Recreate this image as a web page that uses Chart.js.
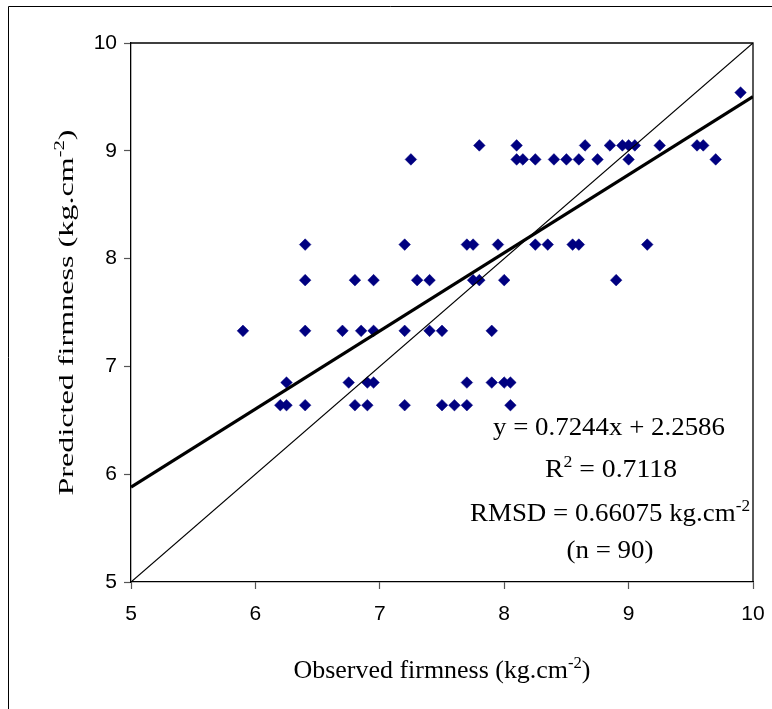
<!DOCTYPE html>
<html><head><meta charset="utf-8">
<script src="https://cdn.jsdelivr.net/npm/chart.js@4.4.1/dist/chart.umd.min.js"></script>
<style>html,body{margin:0;padding:0;background:#fff;overflow:hidden}</style>
</head><body>
<canvas id="c" width="772" height="709"></canvas>
<script>
// ---- data ----
const xTicks = [5, 6, 7, 8, 9, 10];
const yTicks = [5, 6, 7, 8, 9, 10];
const observed = [
  9.90,
  7.80, 8.10, 8.65, 8.85, 8.95, 9.00, 9.05, 9.25, 9.55, 9.60,
  7.25, 8.10, 8.15, 8.25, 8.40, 8.50, 8.60, 8.75, 9.00, 9.70,
  6.40, 7.20, 7.70, 7.75, 7.95, 8.25, 8.35, 8.55, 8.60, 9.15,
  6.40, 6.80, 6.95, 7.30, 7.40, 7.75, 7.80, 8.00, 8.90,
  5.90, 6.40, 6.70, 6.85, 6.95, 7.20, 7.40, 7.50, 7.90,
  6.25, 6.75, 6.90, 6.95, 7.70, 7.90, 8.00, 8.05,
  6.20, 6.25, 6.40, 6.80, 6.90, 7.20, 7.50, 7.60, 7.70, 8.05
];
const predicted = [
  9.54,
  9.05, 9.05, 9.05, 9.05, 9.05, 9.05, 9.05, 9.05, 9.05, 9.05,
  8.92, 8.92, 8.92, 8.92, 8.92, 8.92, 8.92, 8.92, 8.92, 8.92,
  8.13, 8.13, 8.13, 8.13, 8.13, 8.13, 8.13, 8.13, 8.13, 8.13,
  7.80, 7.80, 7.80, 7.80, 7.80, 7.80, 7.80, 7.80, 7.80,
  7.33, 7.33, 7.33, 7.33, 7.33, 7.33, 7.33, 7.33, 7.33,
  6.85, 6.85, 6.85, 6.85, 6.85, 6.85, 6.85, 6.85,
  6.64, 6.64, 6.64, 6.64, 6.64, 6.64, 6.64, 6.64, 6.64, 6.64
];
const oneToOneX = [5, 10];
const oneToOneY = [5, 10];
const fitX = [5, 10];
const fitY = [5.8806, 9.5026];   // y = 0.7244x + 2.2586
const xTitle = [{t: 'Observed firmness (kg.cm'}, {t: '-2', sup: true}, {t: ')'}];
const yTitle = [{t: 'Predicted firmness (kg.cm'}, {t: '-2', sup: true}, {t: ')'}];
const statLines = [
  [{t: 'y = 0.7244x + 2.2586'}],
  [{t: 'R'}, {t: '2', sup: true}, {t: ' = 0.7118'}],
  [{t: 'RMSD = 0.66075 kg.cm'}, {t: '-2', sup: true}],
  [{t: '(n = 90)'}]
];

const pts = observed.map((x, i) => ({x: x, y: predicted[i]}));
const toXY = (xs, ys) => xs.map((x, i) => ({x: x, y: ys[i]}));

const SERIF = '"Liberation Serif", "Times New Roman", serif';

function drawParts(ctx, parts, size, targetW, sy) {
  const widths = parts.map(p => {
    ctx.font = (p.sup ? Math.round(size * 0.62) : size) + 'px ' + SERIF;
    return ctx.measureText(p.t).width;
  });
  const total = widths.reduce((a, b) => a + b, 0);
  const sx = targetW ? targetW / total : 1;
  ctx.save();
  ctx.scale(sx, sy || 1);
  let x = -total / 2;
  parts.forEach((p, i) => {
    ctx.font = (p.sup ? Math.round(size * 0.62) : size) + 'px ' + SERIF;
    ctx.fillText(p.t, x, p.sup ? -size * 0.42 : 0);
    x += widths[i];
  });
  ctx.restore();
}

const decor = {
  id: 'decor',
  beforeDraw(chart) {
    const ctx = chart.ctx;
    ctx.save();
    ctx.strokeStyle = '#000';
    ctx.lineWidth = 1;
    ctx.beginPath();
    ctx.moveTo(8.5, 709);
    ctx.lineTo(8.5, 6.5);
    ctx.lineTo(772, 6.5);
    ctx.stroke();
    ctx.restore();
  },
  afterDraw(chart) {
    const ctx = chart.ctx;
    const a = chart.chartArea;
    ctx.save();
    ctx.strokeStyle = '#000';
    ctx.lineWidth = 1.3;
    ctx.beginPath();
    ctx.moveTo(a.left, a.top);
    ctx.lineTo(a.right, a.top);
    ctx.lineTo(a.right, a.bottom);
    ctx.stroke();

    ctx.fillStyle = '#000';
    ctx.textBaseline = 'alphabetic';
    ctx.textAlign = 'left';
    // x title
    ctx.save();
    ctx.translate((a.left + a.right) / 2, 678);
    drawParts(ctx, xTitle, 25, 297);
    ctx.restore();
    // y title
    ctx.save();
    ctx.translate(73, (a.top + a.bottom) / 2);
    ctx.rotate(-Math.PI / 2);
    drawParts(ctx, yTitle, 25, 366, 0.88);
    ctx.restore();
    // statistics
    const st = [[609, 435, 232], [611, 477, 132], [610, 521, 280], [610, 558, 87]];
    statLines.forEach((ln, i) => {
      ctx.save();
      ctx.translate(st[i][0], st[i][1]);
      drawParts(ctx, ln, 25, st[i][2]);
      ctx.restore();
    });
    ctx.restore();
  }
};

new Chart(document.getElementById('c'), {
  type: 'scatter',
  data: {
    datasets: [
      {type: 'line', data: toXY(fitX, fitY), borderColor: '#000', borderWidth: 3.2,
       pointRadius: 0, fill: false, tension: 0},
      {type: 'line', data: toXY(oneToOneX, oneToOneY), borderColor: '#000', borderWidth: 1.2,
       pointRadius: 0, fill: false, tension: 0},
      {data: pts, pointStyle: 'rectRot', pointRadius: 5.8, backgroundColor: '#000080',
       borderColor: '#000080', borderWidth: 0.5}
    ]
  },
  options: {
    responsive: false,
    animation: false,
    events: [],
    layout: {padding: {left: 0, top: 43, right: 19, bottom: 0}},
    plugins: {legend: {display: false}, tooltip: {enabled: false}},
    scales: {
      x: {
        type: 'linear', min: 5, max: 10,
        afterBuildTicks: s => { s.ticks = xTicks.map(v => ({value: v})); },
        afterFit: s => { s.height = 127; s.paddingLeft = 0; s.paddingRight = 0; },
        grid: {drawOnChartArea: false, tickLength: 7, color: '#555', tickWidth: 1.2},
        border: {display: true, color: '#000', width: 1.3},
        ticks: {color: '#000', padding: 13, maxRotation: 0,
                font: {family: '"Liberation Sans", Arial, sans-serif', size: 21}}
      },
      y: {
        type: 'linear', min: 5, max: 10,
        afterBuildTicks: s => { s.ticks = yTicks.map(v => ({value: v})); },
        afterFit: s => { s.width = 131; s.paddingTop = 0; s.paddingBottom = 0; },
        grid: {drawOnChartArea: false, tickLength: 7, color: '#555', tickWidth: 1.2},
        border: {display: true, color: '#000', width: 1.3},
        ticks: {color: '#000', padding: 7,
                font: {family: '"Liberation Sans", Arial, sans-serif', size: 21}}
      }
    }
  },
  plugins: [decor]
});
</script>
</body></html>
